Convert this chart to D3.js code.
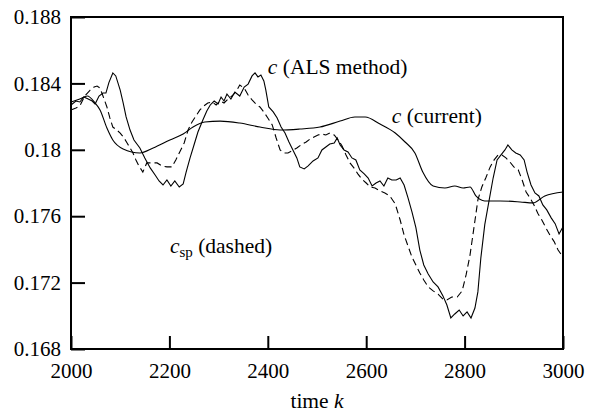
<!DOCTYPE html>
<html>
<head>
<meta charset="utf-8">
<script src="https://cdn.jsdelivr.net/npm/d3@7"></script>
<style>
  body { margin: 0; background: #fff; }
</style>
</head>
<body>
<div id="chart"></div>
<script>
// c (current) - smooth solid curve
const kCurrent = [2000, 2018, 2033, 2049, 2059, 2073, 2085, 2106, 2140, 2167, 2201, 2228, 2248, 2272, 2303,
  2343, 2384, 2425, 2465, 2506, 2547, 2577, 2598, 2628, 2659, 2679, 2699, 2715, 2736, 2760, 2780, 2797,
  2811, 2823, 2841, 2872, 2913, 2939, 2963, 3000];
const cCurrent = [0.18288, 0.18306, 0.18324, 0.18282, 0.1824, 0.18131, 0.18059, 0.18005, 0.17981, 0.18011,
  0.18059, 0.18095, 0.18137, 0.18167, 0.18173, 0.18161, 0.18137, 0.18119, 0.18125, 0.18137, 0.18173,
  0.18198, 0.18198, 0.18155, 0.18101, 0.18047, 0.17981, 0.17866, 0.17782, 0.1777, 0.17782, 0.1777,
  0.17776, 0.17722, 0.17692, 0.17692, 0.17686, 0.1768, 0.17722, 0.17746];

// c (ALS method) - noisy solid curve
const kALS = [2000, 2010, 2018, 2026, 2035, 2043, 2049, 2057, 2065, 2071, 2077, 2085, 2091, 2100, 2106,
  2112, 2120, 2128, 2140, 2150, 2161, 2171, 2179, 2187, 2195, 2203, 2211, 2220, 2228, 2234, 2242, 2250,
  2258, 2268, 2276, 2283, 2291, 2299, 2305, 2311, 2317, 2325, 2333, 2343, 2352, 2360, 2368, 2374, 2380,
  2386, 2392, 2396, 2402, 2411, 2419, 2427, 2435, 2443, 2451, 2459, 2465, 2474, 2482, 2492, 2502, 2510,
  2518, 2526, 2535, 2541, 2547, 2555, 2563, 2571, 2579, 2587, 2596, 2604, 2612, 2620, 2628, 2636, 2644,
  2652, 2661, 2669, 2677, 2685, 2693, 2701, 2709, 2717, 2726, 2736, 2746, 2756, 2764, 2772, 2780, 2789,
  2797, 2805, 2813, 2821, 2827, 2833, 2841, 2850, 2858, 2866, 2874, 2882, 2888, 2896, 2904, 2913, 2921,
  2927, 2935, 2943, 2951, 2959, 2967, 2976, 2984, 2992, 3000];
const cALS = [0.1827, 0.18294, 0.18288, 0.18318, 0.18306, 0.18294, 0.18276, 0.18324, 0.18342, 0.18342,
  0.18405, 0.18463, 0.18445, 0.1836, 0.18282, 0.18198, 0.18119, 0.18059, 0.18011, 0.17951, 0.17891,
  0.17848, 0.17812, 0.17788, 0.17818, 0.17782, 0.17812, 0.17776, 0.17794, 0.17866, 0.17951, 0.18029,
  0.18107, 0.1818, 0.18234, 0.1827, 0.18294, 0.18276, 0.18318, 0.18294, 0.18336, 0.18306, 0.18348,
  0.18324, 0.18378, 0.18396, 0.18445, 0.18463, 0.18439, 0.18451, 0.18415, 0.1836, 0.18258, 0.18228,
  0.18192, 0.18137, 0.18101, 0.18047, 0.17999, 0.17951, 0.17897, 0.17885, 0.17903, 0.17933, 0.17951,
  0.17999, 0.18017, 0.18035, 0.18041, 0.18071, 0.18029, 0.17999, 0.17987, 0.17951, 0.17939, 0.17879,
  0.17855, 0.1783, 0.17782, 0.178, 0.17812, 0.17782, 0.1783, 0.17818, 0.17818, 0.1783, 0.17788, 0.1771,
  0.17626, 0.17531, 0.17396, 0.17306, 0.17252, 0.17204, 0.17174, 0.1712, 0.17065, 0.16987, 0.17011,
  0.17035, 0.16999, 0.17023, 0.16987, 0.17047, 0.17144, 0.17348, 0.17549, 0.17698, 0.1783, 0.17939,
  0.17969, 0.17999, 0.18029, 0.17999, 0.17981, 0.17969, 0.17939, 0.17866, 0.17788, 0.1774, 0.17722,
  0.17668, 0.17638, 0.1759, 0.17555, 0.17493, 0.17537];

// c_sp - dashed curve
const kSp = [2000, 2010, 2018, 2028, 2039, 2047, 2053, 2059, 2065, 2073, 2079, 2085, 2093, 2100, 2108,
  2114, 2120, 2126, 2132, 2138, 2146, 2154, 2165, 2175, 2185, 2195, 2205, 2213, 2221, 2230, 2238, 2246,
  2254, 2262, 2270, 2278, 2287, 2295, 2303, 2311, 2319, 2327, 2335, 2343, 2352, 2360, 2368, 2376, 2384,
  2392, 2400, 2409, 2417, 2425, 2433, 2441, 2449, 2459, 2470, 2478, 2486, 2494, 2502, 2510, 2518, 2526,
  2535, 2543, 2551, 2559, 2567, 2575, 2583, 2591, 2600, 2608, 2618, 2628, 2638, 2648, 2659, 2669, 2677,
  2685, 2693, 2701, 2709, 2717, 2726, 2736, 2746, 2756, 2764, 2774, 2785, 2795, 2803, 2811, 2819, 2827,
  2835, 2843, 2852, 2860, 2868, 2876, 2884, 2892, 2900, 2909, 2917, 2925, 2933, 2941, 2949, 2957, 2965,
  2974, 2982, 2990, 3000];
const cSp = [0.1824, 0.18252, 0.18264, 0.18324, 0.1836, 0.18378, 0.18384, 0.18372, 0.18324, 0.18258,
  0.18192, 0.18137, 0.18119, 0.18101, 0.18071, 0.18041, 0.18011, 0.17981, 0.17939, 0.17903, 0.17866,
  0.17921, 0.17921, 0.17921, 0.17903, 0.17897, 0.17897, 0.17939, 0.17987, 0.18041, 0.18119, 0.18168,
  0.18204, 0.1824, 0.18264, 0.18282, 0.18288, 0.1827, 0.18294, 0.18282, 0.18306, 0.18324, 0.18348,
  0.1839, 0.18372, 0.1833, 0.183, 0.18276, 0.18258, 0.18228, 0.18192, 0.1815, 0.18071, 0.17999, 0.17981,
  0.17981, 0.17993, 0.18011, 0.18035, 0.18047, 0.18065, 0.18077, 0.18089, 0.18095, 0.18089, 0.18101,
  0.18089, 0.18059, 0.18023, 0.17969, 0.17921, 0.17891, 0.17855, 0.17824, 0.178, 0.17776, 0.1777,
  0.17752, 0.1774, 0.17722, 0.17674, 0.17577, 0.17487, 0.1742, 0.17354, 0.17306, 0.17258, 0.17216,
  0.17174, 0.1715, 0.17131, 0.17101, 0.17095, 0.17113, 0.17113, 0.1715, 0.17246, 0.17366, 0.17531,
  0.17698, 0.17776, 0.1783, 0.17897, 0.17939, 0.17969, 0.17969, 0.17951, 0.17927, 0.17897, 0.17879,
  0.17818, 0.17746, 0.1771, 0.17668, 0.17616, 0.17577, 0.17531, 0.17483, 0.17447, 0.17396, 0.17354];

const xTicks = [2000, 2200, 2400, 2600, 2800, 3000];
const yTicks = [0.168, 0.172, 0.176, 0.18, 0.184, 0.188];
const yTickLabels = ["0.168", "0.172", "0.176", "0.18", "0.184", "0.188"];

// size and margins
const margin = { top: 17, right: 26, bottom: 64, left: 71 },
    width = 589 - margin.left - margin.right,
    height = 413 - margin.top - margin.bottom;
const serif = '"Liberation Serif"';

const svg = d3.select("#chart")
    .append("svg")
    .attr("width", 589)
    .attr("height", 413)
    .append("g")
    .attr("transform", `translate(${margin.left}, ${margin.top})`);

const x = d3.scaleLinear().domain([2000, 3000]).range([0, width]);
const y = d3.scaleLinear().domain([0.168, 0.188]).range([height, 0]);

// curves
const line = d3.line()
    .x(d => x(d[0]))
    .y(d => y(d[1]));

const series = [
    { k: kCurrent, c: cCurrent, dash: null, curve: d3.curveMonotoneX },
    { k: kALS, c: cALS, dash: null, curve: d3.curveLinear },
    { k: kSp, c: cSp, dash: "7,4", curve: d3.curveLinear }
];

series.forEach(s => {
    svg.append("path")
        .datum(d3.zip(s.k, s.c))
        .attr("d", line.curve(s.curve))
        .attr("fill", "none")
        .attr("stroke", "#000")
        .attr("stroke-width", 1.1)
        .attr("stroke-dasharray", s.dash);
});

// axes (ticks point inward)
const xAxis = svg.append("g")
    .attr("transform", `translate(0, ${height})`)
    .call(d3.axisBottom(x).tickValues(xTicks).tickFormat(d3.format("d"))
        .tickSizeInner(-13).tickSizeOuter(0).tickPadding(14));

const yAxis = svg.append("g")
    .call(d3.axisLeft(y).tickValues(yTicks).tickFormat((d, i) => yTickLabels[i])
        .tickSizeInner(-14).tickSizeOuter(0).tickPadding(10));

[xAxis, yAxis].forEach(a => {
    a.select(".domain").remove();
    a.selectAll(".tick line").attr("stroke", "#000").attr("stroke-width", 2);
    a.selectAll("text")
        .style("font-family", serif)
        .style("font-size", "21px")
        .attr("fill", "#000");
});

// frame
svg.append("rect")
    .attr("x", 0).attr("y", 0)
    .attr("width", width).attr("height", height)
    .attr("fill", "none")
    .attr("stroke", "#000")
    .attr("stroke-width", 2);

// x axis title
const xt = svg.append("text")
    .attr("x", width / 2)
    .attr("y", height + 59)
    .attr("text-anchor", "middle")
    .style("font-family", serif)
    .style("font-size", "21.5px");
xt.append("tspan").text("time ");
xt.append("tspan").style("font-style", "italic").text("k");

// curve labels
function label(px, py, sub, rest) {
    const t = svg.append("text")
        .attr("x", x(px)).attr("y", y(py))
        .style("font-family", serif)
        .style("font-size", "21.5px");
    t.append("tspan").style("font-style", "italic").text("c");
    if (sub) {
        t.append("tspan").style("font-size", "15px").attr("dy", 4).text(sub);
        t.append("tspan").attr("dy", -4).text(rest);
    } else {
        t.append("tspan").text(rest);
    }
}
label(2400, 0.18457, null, " (ALS method)");
label(2652, 0.18164, null, " (current)");
label(2201, 0.17378, "sp", " (dashed)");
</script>
</body>
</html>
